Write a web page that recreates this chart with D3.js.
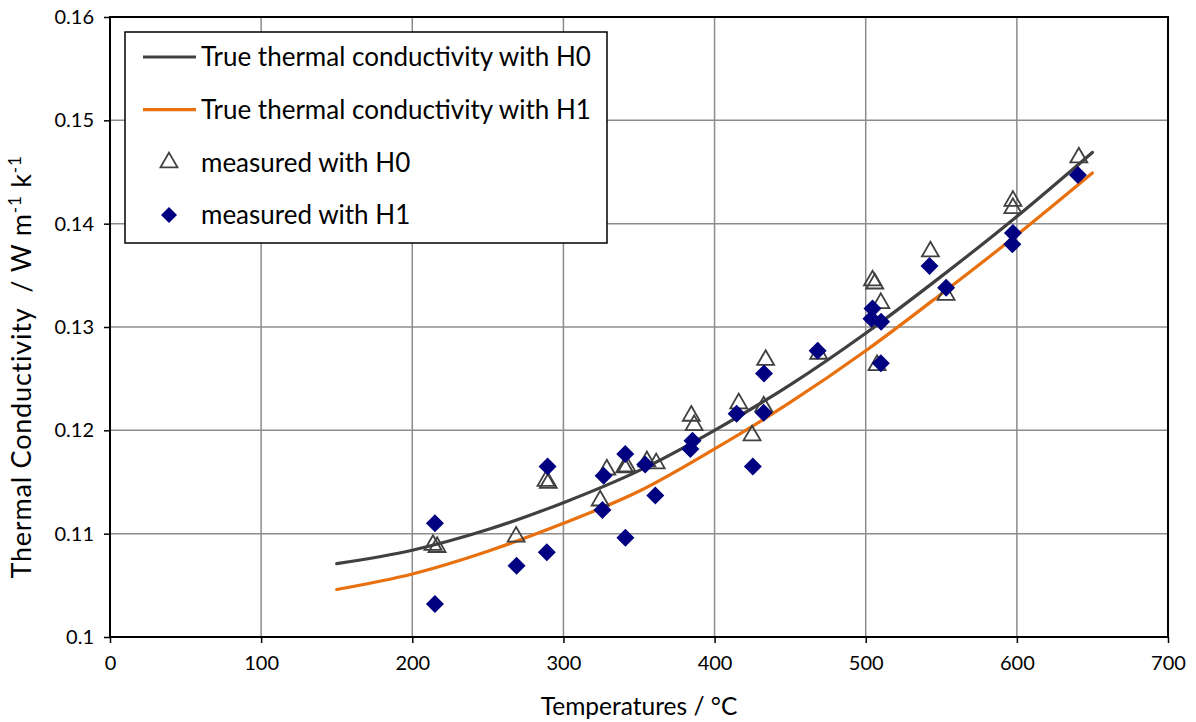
<!DOCTYPE html>
<html>
<head>
<meta charset="utf-8">
<script src="https://cdn.jsdelivr.net/npm/d3@7"></script>
<style>
  body { margin: 0; background: #fff; }
  text { font-family: Lato, "Open Sans", sans-serif; fill: #000; }
</style>
</head>
<body>
<svg id="chart" width="1196" height="722"></svg>
<script>
// curve temperatures and values
var curveTemps = [150, 200, 250, 300, 350, 400, 450, 500, 550, 600, 650];
var trueH0 = [0.1071, 0.1084, 0.1104, 0.1130, 0.1161, 0.1200, 0.1244, 0.1294, 0.1349, 0.1407, 0.1469];
var trueH1 = [0.1046, 0.1061, 0.1083, 0.1110, 0.1141, 0.1182, 0.1227, 0.1277, 0.1332, 0.1389, 0.1449];

// measured points [temperature, conductivity]
var measuredH0 = [
  [213.7, 0.1089], [216.4, 0.1087], [268.7, 0.1097], [288.5, 0.1151], [290, 0.1149],
  [324.3, 0.1132], [328.7, 0.1162], [340.5, 0.1164], [342, 0.1165], [355.2, 0.1170], [361.4, 0.1168],
  [384.6, 0.1214], [386.5, 0.1205], [416, 0.1226], [424.8, 0.1195], [432.5, 0.1223],
  [433.8, 0.1268], [468.9, 0.1274], [504.5, 0.1345], [506, 0.1342], [507.5, 0.1263],
  [510, 0.1323], [542.8, 0.1373], [553.2, 0.1331], [597.4, 0.1422], [597.4, 0.1415], [641, 0.1464]
];
var measuredH1 = [
  [215, 0.1110], [215, 0.1032], [269, 0.1069], [289.5, 0.1165], [289, 0.1082],
  [325.8, 0.1123], [326.6, 0.1156], [340.9, 0.1177], [341, 0.1096], [354.1, 0.1167],
  [360.8, 0.1137], [384, 0.1182], [385.4, 0.1190], [414.6, 0.1216], [425.3, 0.1165],
  [432.7, 0.1255], [432.5, 0.1217], [468.2, 0.1277], [504.5, 0.1318], [503.8, 0.1308],
  [510.2, 0.1305], [510, 0.1265], [542.2, 0.1359], [553.2, 0.1338], [597.4, 0.1391],
  [597, 0.1380], [640.4, 0.1447]
];

var xTicks = [0, 100, 200, 300, 400, 500, 600, 700];
var yTicks = [0.10, 0.11, 0.12, 0.13, 0.14, 0.15, 0.16];

var legendItems = [
  { label: "True thermal conductivity with H0", kind: "line", color: "#404040" },
  { label: "True thermal conductivity with H1", kind: "line", color: "#E8700E" },
  { label: "measured with H0", kind: "triangle", color: "#404040" },
  { label: "measured with H1", kind: "diamond", color: "#000080" }
];

var svg = d3.select("#chart");
var margin = { left: 110, top: 17, right: 1168, bottom: 637 };

var x = d3.scaleLinear().domain([0, 700]).range([margin.left, margin.right]);
var y = d3.scaleLinear().domain([0.10, 0.16]).range([margin.bottom, margin.top]);

//grid lines
var grid = svg.append("g");
grid.selectAll(".vgrid").data(xTicks).enter().append("line")
  .attr("x1", function (d) { return x(d); }).attr("x2", function (d) { return x(d); })
  .attr("y1", margin.top).attr("y2", margin.bottom)
  .attr("stroke", "#8c8c8c").attr("stroke-width", 1.5);
grid.selectAll(".hgrid").data(yTicks).enter().append("line")
  .attr("y1", function (d) { return y(d); }).attr("y2", function (d) { return y(d); })
  .attr("x1", margin.left).attr("x2", margin.right)
  .attr("stroke", "#8c8c8c").attr("stroke-width", 1.5);

//axes
var xAxis = d3.axisBottom(x).tickValues(xTicks).tickSize(6).tickPadding(13).tickFormat(d3.format("d"));
var yAxis = d3.axisLeft(y).tickValues(yTicks).tickSize(6).tickPadding(10).tickFormat(function (d) {
  return d === 0.1 ? "0.1" : d3.format(".2f")(d);
});

var gx = svg.append("g").attr("transform", "translate(0," + margin.bottom + ")").call(xAxis);
var gy = svg.append("g").attr("transform", "translate(" + margin.left + ",0)").call(yAxis);
[gx, gy].forEach(function (g) {
  g.select(".domain").remove();
  g.selectAll(".tick line").attr("stroke", "#000").attr("stroke-width", 1.5);
  g.selectAll(".tick text").style("font-size", "20px").style("font-family", "Lato, sans-serif").attr("fill", "#000");
});

//plot border
svg.append("rect")
  .attr("x", margin.left).attr("y", margin.top)
  .attr("width", margin.right - margin.left).attr("height", margin.bottom - margin.top)
  .attr("fill", "none").attr("stroke", "#000").attr("stroke-width", 2);

//curves
var line = d3.line()
  .x(function (d) { return x(d[0]); })
  .y(function (d) { return y(d[1]); })
  .curve(d3.curveMonotoneX);

svg.append("path").datum(d3.zip(curveTemps, trueH0))
  .attr("d", line).attr("fill", "none").attr("stroke", "#404040").attr("stroke-width", 3.2).attr("stroke-linecap", "round");
svg.append("path").datum(d3.zip(curveTemps, trueH1))
  .attr("d", line).attr("fill", "none").attr("stroke", "#E8700E").attr("stroke-width", 3.2).attr("stroke-linecap", "round");

//markers
var triangle = d3.symbol().type(d3.symbolTriangle).size(125);
var diamond = "M0,-9L9,0L0,9L-9,0Z";

svg.append("g").selectAll("path").data(measuredH0).enter().append("path")
  .attr("d", triangle)
  .attr("transform", function (d) { return "translate(" + x(d[0]) + "," + y(d[1]) + ")"; })
  .attr("fill", "none").attr("stroke", "#404040").attr("stroke-width", 1.8);

svg.append("g").selectAll("path").data(measuredH1).enter().append("path")
  .attr("d", diamond)
  .attr("transform", function (d) { return "translate(" + x(d[0]) + "," + y(d[1]) + ")"; })
  .attr("fill", "#000080");

//legend
var legend = svg.append("g");
legend.append("rect").attr("x", 125).attr("y", 32).attr("width", 482).attr("height", 211)
  .attr("fill", "#fff").attr("stroke", "#000").attr("stroke-width", 1.5);

legendItems.forEach(function (item, i) {
  var cy = 57 + i * 52.7;
  if (item.kind === "line") {
    legend.append("line").attr("x1", 143).attr("x2", 196).attr("y1", cy).attr("y2", cy)
      .attr("stroke", item.color).attr("stroke-width", 3.2);
  } else if (item.kind === "triangle") {
    legend.append("path").attr("d", triangle).attr("transform", "translate(169," + cy + ")")
      .attr("fill", "none").attr("stroke", item.color).attr("stroke-width", 1.8);
  } else {
    legend.append("path").attr("d", "M0,-8L8,0L0,8L-8,0Z").attr("transform", "translate(169," + cy + ")")
      .attr("fill", item.color);
  }
  legend.append("text").attr("x", 201).attr("y", cy).attr("dy", "0.35em")
    .style("font-size", "26px").text(item.label);
});

//axis titles
svg.append("text").attr("x", x(350)).attr("y", 715).attr("text-anchor", "middle")
  .style("font-size", "24.5px").text("Temperatures / °C");

var yTitle = svg.append("text").attr("transform", "translate(31,367) rotate(-90)")
  .attr("text-anchor", "middle").style("font-size", "27px").style("letter-spacing", "0.8px");
yTitle.append("tspan").text("Thermal Conductivity \u00a0/ W m");
yTitle.append("tspan").attr("dy", -10).style("font-size", "17px").text("-1");
yTitle.append("tspan").attr("dy", 10).text(" k");
yTitle.append("tspan").attr("dy", -10).style("font-size", "17px").text("-1");
</script>
</body>
</html>
